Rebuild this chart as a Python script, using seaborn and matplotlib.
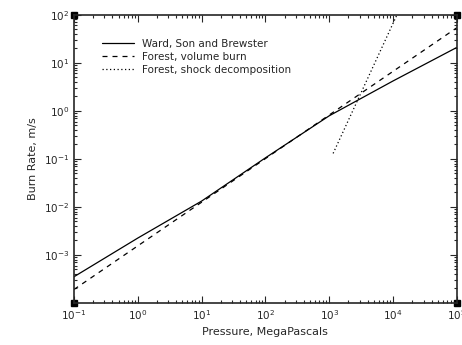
import seaborn as sns
import pandas as pd
import matplotlib.pyplot as plt
from matplotlib.ticker import LogLocator, NullFormatter

# Ward, Son and Brewster
p_wsb = [0.1, 1, 10, 100, 1000, 10000, 100000]
r_wsb = [3.5e-4, 2.24e-3, 1.32e-2, 0.105, 0.79, 4.2, 21]
# Forest, volume burn
p_vol = [0.1, 100000]
r_vol = [1.9e-4, 54]
# Forest, shock decomposition
p_shock = [1150, 11500]
r_shock = [0.13, 100]

sns.set_style("ticks")
plt.rcParams['font.family'] = ['DejaVu Sans']

fig = plt.figure(figsize=(4.62, 3.45), dpi=100)
ax = fig.add_axes([0.160, 0.122, 0.829, 0.835])

sns.lineplot(x=p_wsb, y=r_wsb, ax=ax, color='black', lw=0.9, label='Ward, Son and Brewster')
sns.lineplot(x=p_vol, y=r_vol, ax=ax, color='black', lw=0.9, linestyle=(0, (4, 4)), label='Forest, volume burn')
sns.lineplot(x=p_shock, y=r_shock, ax=ax, color='black', lw=0.9, linestyle=(0, (1, 2)), label='Forest, shock decomposition')

ax.set_xscale('log')
ax.set_yscale('log')
ax.set_xlim(0.1, 1e5)
ax.set_ylim(1e-4, 1e2)
ax.set_xticks([1e-1, 1e0, 1e1, 1e2, 1e3, 1e4, 1e5])
ax.set_yticks([1e-3, 1e-2, 1e-1, 1e0, 1e1, 1e2])
ax.xaxis.set_minor_locator(LogLocator(base=10, subs=range(2, 10), numticks=20))
ax.yaxis.set_minor_locator(LogLocator(base=10, subs=range(2, 10), numticks=20))
ax.xaxis.set_minor_formatter(NullFormatter())
ax.yaxis.set_minor_formatter(NullFormatter())
ax.tick_params(which='both', direction='in', top=True, right=True, labelsize=7.5, width=0.8)
ax.tick_params(which='major', length=5)
ax.tick_params(which='minor', length=2.5)
for s in ax.spines.values():
    s.set_linewidth(1.2)

# small black squares at the frame corners
for cx, cy in [(0, 0), (0, 1), (1, 0), (1, 1)]:
    ax.plot(cx, cy, 's', color='black', ms=4, transform=ax.transAxes, clip_on=False)

ax.set_xlabel('Pressure, MegaPascals', fontsize=8)
ax.set_ylabel('Burn Rate, m/s', fontsize=8)
ax.legend(loc='upper left', frameon=False, fontsize=7.5, handlelength=3, bbox_to_anchor=(0.05, 0.95), labelspacing=0.3)

fig.savefig('out.png', dpi=100)
